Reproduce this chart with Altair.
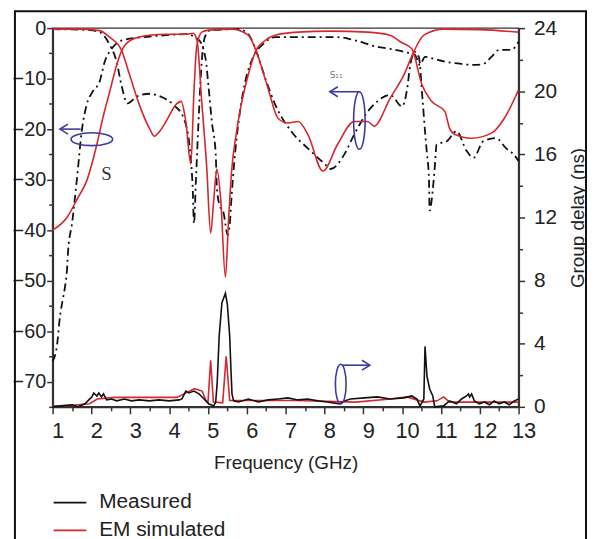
import altair as alt
import pandas as pd

# ---------------- data ----------------
# EM simulated |S21| (dB)
s21_sim_f = [1.0, 1.37, 1.65, 1.88, 2.01, 2.14, 2.29, 2.47, 2.65, 2.80, 3.06, 3.49, 3.92, 4.43,
             4.62, 4.72, 4.84, 4.97, 5.07, 5.15, 5.23, 5.33, 5.45, 5.53, 5.61, 5.74, 5.86, 6.04,
             6.22, 6.48, 6.73, 7.32, 8.16, 9.11, 9.69, 9.95, 10.25, 10.51, 10.76, 11.10, 11.22,
             11.35, 11.79, 12.30, 12.63, 13.0]
s21_sim_db = [-40, -37.5, -33.6, -30.2, -26.9, -23.0, -17.9, -12.6, -7.3, -4.1, -2.2, -1.4, -1.2, -1.2,
              -1.0, -2.5, -14.5, -27.7, -40.6, -34.0, -27.9, -34.0, -49.3, -38.1, -28.3, -20.4, -15.1, -9.2,
              -4.7, -2.4, -1.4, -0.8, -0.6, -0.8, -1.4, -2.7, -4.1, -11.2, -14.5, -16.5, -19.8,
              -21.0, -21.8, -20.8, -17.9, -12.2]
# EM simulated |S11| (dB)
s11_sim_f = [1.0, 1.8, 2.21, 2.47, 2.77, 2.98, 3.23, 3.49, 3.62, 3.75, 3.92, 4.18, 4.31, 4.43, 4.56,
             4.64, 4.71, 4.84, 5.02, 5.61, 6.04, 6.25, 6.55, 6.81, 7.06, 7.32, 7.57, 7.96, 8.34, 8.77,
             9.11, 9.28, 9.69, 10.05, 10.30, 10.56, 11.07, 12.0, 13.0]
s11_sim_db = [-0.2, -0.2, -0.5, -1.8, -4.3, -9.2, -15.1, -19.8, -21.4, -20.5, -18.5, -15.1, -14.5, -18.5, -26.9,
              -12.6, -3.7, -0.8, -0.4, -0.2, -1.4, -4.7, -12.0, -17.9, -18.8, -18.5, -21.0, -28.3, -23.0, -18.5,
              -18.5, -19.4, -13.9, -9.2, -4.7, -1.4, -0.2, -0.3, -0.8]
# Measured |S21| (dB)
s21_meas_f = [1.0, 1.11, 1.19, 1.27, 1.32, 1.37, 1.40, 1.50, 1.63, 1.75, 1.88, 2.03, 2.21, 2.34, 2.52,
              2.80, 3.31, 3.92, 4.43, 4.77, 4.94, 5.02, 5.10, 5.20, 5.23, 5.30, 5.40, 5.51, 5.56, 5.61,
              5.68, 5.79, 5.96, 6.17, 6.43, 6.73, 7.57, 8.34, 8.77, 9.36, 9.69, 10.05, 10.33, 10.46,
              10.59, 10.82, 11.15, 11.53, 11.84, 12.09, 12.30, 12.50, 12.81, 13.0]
s21_meas_db = [-66, -63.0, -57.1, -53.4, -51.2, -47.9, -44.0, -38.7, -29.6, -20.4, -15.1, -12.6, -10.6, -6.7, -4.1,
               -2.4, -1.8, -1.4, -1.2, -2.4, -6.1, -12.0, -18.5, -24.9, -31.6, -35.1, -36.5, -41.0, -39.0, -33.2,
               -26.3, -18.5, -10.6, -5.7, -3.1, -1.8, -1.8, -1.8, -2.4, -3.7, -4.1, -4.7, -5.3, -7.3,
               -5.7, -6.1, -6.7, -7.1, -7.3, -7.1, -5.7, -4.3, -4.3, -2.7]
# Measured |S11| (dB)
s11_meas_f = [1.0, 1.96, 2.21, 2.47, 2.65, 2.77, 2.93, 3.18, 3.49, 3.82, 4.13, 4.38, 4.54, 4.61, 4.64,
              4.69, 4.77, 4.84, 4.92, 5.07, 5.79, 6.04, 6.22, 6.48, 6.73, 7.14, 7.57, 8.01, 8.16, 8.52,
              8.77, 9.18, 9.36, 9.69, 10.0, 10.13, 10.21, 10.33, 10.43, 10.53, 10.59, 10.64, 10.69, 10.71,
              10.79, 10.84, 10.89, 11.15, 11.40, 11.66, 11.84, 12.09, 12.42, 12.68, 12.86, 13.0]
s11_meas_db = [-0.2, -0.4, -0.8, -3.3, -6.7, -11.2, -14.9, -13.5, -13.0, -13.7, -15.3, -17.9, -24.3, -32.2, -38.7,
               -30.2, -16.5, -6.7, -1.8, -0.4, -0.2, -1.2, -4.1, -10.0, -15.1, -20.4, -23.8, -26.9, -27.9, -24.9,
               -21.0, -15.9, -14.5, -13.2, -15.5, -12.0, -7.3, -4.7, -5.7, -14.5, -20.4, -24.9, -29.6, -36.1,
               -32.0, -27.7, -23.0, -22.4, -20.4, -24.3, -25.7, -22.4, -21.8, -23.8, -24.9, -26.3]
# EM simulated group delay (ns)
gd_sim_f = [1.0, 1.5, 1.95, 2.15, 2.6, 3.5, 4.2, 4.45, 4.65, 4.85, 4.95, 5.0, 5.07, 5.14, 5.38, 5.47,
            5.56, 6.0, 7.3, 8.8, 9.7, 10.13, 10.56, 10.9, 11.07, 11.22, 12.2, 13.0]
gd_sim_ns = [0.05, 0.1, 0.2, 0.5, 0.6, 0.6, 0.6, 0.9, 1.15, 1.0, 0.4, 0.25, 2.95, 0.3, 0.25, 3.2,
             0.4, 0.4, 0.4, 0.3, 0.5, 0.63, 0.3, 0.38, 0.63, 0.3, 0.3, 0.3]
# Measured group delay (ns)
gd_meas_f = [1.0, 1.24, 1.50, 1.65, 1.83, 2.01, 2.06, 2.14, 2.19, 2.26, 2.31, 2.39, 2.52, 2.65, 2.85,
             3.03, 3.23, 3.49, 3.74, 4.00, 4.26, 4.33, 4.43, 4.51, 4.64, 4.77, 4.90, 5.02, 5.15, 5.20,
             5.24, 5.29, 5.36, 5.45, 5.50, 5.56, 5.59, 5.62, 5.66, 5.79, 6.04, 6.30, 6.55, 6.81, 7.06,
             7.32, 7.57, 7.83, 8.08, 8.39, 8.52, 8.67, 9.03, 9.36, 9.69, 10.05, 10.25, 10.38, 10.46,
             10.56, 10.59, 10.64, 10.71, 10.79, 10.84, 11.07, 11.22, 11.40, 11.53, 11.66, 11.71, 11.74,
             11.79, 11.86, 11.99, 12.12, 12.25, 12.37, 12.50, 12.63, 12.76, 12.89, 13.0]
gd_meas_ns = [0.0, 0.06, 0.13, 0.0, 0.19, 0.63, 0.88, 0.69, 0.88, 0.63, 0.82, 0.44, 0.50, 0.38, 0.50,
              0.38, 0.44, 0.38, 0.44, 0.38, 0.44, 0.50, 1.00, 0.88, 1.00, 0.82, 0.50, 0.19, 0.06, 0.3,
              1.6, 4.5, 6.6, 7.2, 6.5, 4.5, 2.5, 0.8, 0.38, 0.31, 0.50, 0.31, 0.44, 0.50, 0.57,
              0.44, 0.50, 0.38, 0.31, 0.19, 0.38, 0.50, 0.57, 0.63, 0.50, 0.57, 0.69, 0.50, 0.06,
              0.50, 3.83, 1.95, 1.13, 0.69, 0.0, 0.06, 0.38, 0.19, 0.50, 0.69, 0.82, 0.63,
              0.82, 0.38, 0.19, 0.31, 0.13, 0.38, 0.19, 0.31, 0.13, 0.38, 0.50]

# axis ticks / labels
x_ticks = [1, 1.5, 2, 2.5, 3, 3.5, 4, 4.5, 5, 5.5, 6, 6.5, 7, 7.5, 8, 8.5, 9, 9.5, 10, 10.5, 11, 11.5, 12, 12.5, 13]
db_ticks = [0, -5, -10, -15, -20, -25, -30, -35, -40, -45, -50, -55, -60, -65, -70, -75]
ns_ticks = [0, 2, 4, 6, 8, 10, 12, 14, 16, 18, 20, 22, 24]

# annotations (data coordinates)
ell_s21_f, ell_s21_db = [2.01], [-22.0]
arr_s21_f1, arr_s21_f2, arr_s21_db = [1.72], [1.19], [-20.0]
ell_s11_f, ell_s11_db = [8.90], [-18.3]
arr_s11_f1, arr_s11_f2, arr_s11_db = [8.90], [8.14], [-12.6]
ell_gd_f, ell_gd_ns = [8.42], [1.44]
arr_gd_f1, arr_gd_f2, arr_gd_ns = [8.45], [9.17], [2.64]
txt_s_f, txt_s_db, txt_s = [2.39], [-28.9], ["S"]
txt_s11_f, txt_s11_db, txt_s11 = [8.30], [-9.3], ["S\u2081\u2081"]

# ---------------- build ----------------
RED = "#d7262e"
BLUE = "#3c3c9c"
FONT = "Liberation Sans"
W, H = 470, 382


def tab(f, v, col, src, param):
    return pd.DataFrame({"f": f, col: v, "src": src, "param": param})


s_meas = pd.concat([tab(s21_meas_f, s21_meas_db, "db", "Measured", "S21"),
                    tab(s11_meas_f, s11_meas_db, "db", "Measured", "S11")])
s_sim = pd.concat([tab(s21_sim_f, s21_sim_db, "db", "EM simulated", "S21"),
                   tab(s11_sim_f, s11_sim_db, "db", "EM simulated", "S11")])
g_meas = tab(gd_meas_f, gd_meas_ns, "ns", "Measured", "GD")
g_sim = tab(gd_sim_f, gd_sim_ns, "ns", "EM simulated", "GD")

x_axis = alt.Axis(values=x_ticks, format=".0f",
                  labelExpr="datum.value % 1 === 0 ? datum.label : ''",
                  tickSize={"condition": {"test": "datum.value % 1 === 0", "value": 7}, "value": 4},
                  title="Frequency (GHz)", labelFontSize=22, titleFontSize=19,
                  labelPadding=7, titlePadding=12, labelFlush=False, labelOverlap=False,
                  labelOffset=5)
db_axis = alt.Axis(values=db_ticks, format=".0f",
                   labelExpr="datum.value % 10 === 0 ? datum.label : ''",
                   tickSize={"condition": {"test": "datum.value % 10 === 0", "value": 6}, "value": 4},
                   title="", labelFontSize=20, labelPadding=1, labelOverlap=False, labelFlush=False)
ns_axis = alt.Axis(values=ns_ticks, orient="right", format=".0f",
                   labelExpr="datum.value % 4 === 0 ? datum.label : ''",
                   tickSize={"condition": {"test": "datum.value % 4 === 0", "value": 6}, "value": 4},
                   title="Group delay  (ns)", titleAngle=270, titleBaseline="top", titleFontSize=19,
                   labelFontSize=21, labelPadding=9, titlePadding=12,
                   labelOverlap=False, labelFlush=False)

x_scale = alt.Scale(domain=[1, 13], nice=False, zero=False)
db_scale = alt.Scale(domain=[-75, 0], nice=False, zero=False)
ns_scale = alt.Scale(domain=[0, 24], nice=False, zero=False)


def X():
    return alt.X("f:Q", scale=x_scale, axis=x_axis)


def YDB():
    return alt.Y("db:Q", scale=db_scale, axis=db_axis)


def YNS():
    return alt.Y("ns:Q", scale=ns_scale, axis=ns_axis)


legend = alt.Legend(title=None, orient="none", legendX=0, legendY=461, direction="vertical",
                    symbolType="stroke", symbolSize=1089, symbolStrokeWidth=1.8, symbolDash=[1, 0],
                    labelFontSize=21, labelFont=FONT, labelColor="#222", labelOffset=12, rowPadding=-13)
color = alt.Color("src:N", scale=alt.Scale(domain=["Measured", "EM simulated"], range=["#111111", RED]),
                  legend=legend)

sim_layer = alt.Chart(s_sim).mark_line(strokeWidth=1.6, interpolate="monotone").encode(
    x=X(), y=YDB(), color=color, detail="param:N")
meas_layer = alt.Chart(s_meas).mark_line(strokeWidth=1.8, strokeDash=[8, 4, 2, 4], interpolate="monotone").encode(
    x=X(), y=YDB(), color=color, detail="param:N")

ell_path_h = "M -1 0 A 1 0.31 0 1 0 1 0 A 1 0.31 0 1 0 -1 0 Z"
ell_path_v1 = "M 0 -1 A 0.2 1 0 1 0 0 1 A 0.2 1 0 1 0 0 -1 Z"
ell_path_v2 = "M 0 -1 A 0.27 1 0 1 0 0 1 A 0.27 1 0 1 0 0 -1 Z"
head_left = "M 1.6 -1 L 0 0 L 1.6 1"
head_right = "M -1.6 -1 L 0 0 L -1.6 1"

ell1 = alt.Chart(pd.DataFrame({"f": ell_s21_f, "db": ell_s21_db})).mark_point(
    shape=ell_path_h, size=1764, filled=False, stroke=BLUE, strokeWidth=1.6, opacity=1).encode(x=X(), y=YDB())
ell2 = alt.Chart(pd.DataFrame({"f": ell_s11_f, "db": ell_s11_db})).mark_point(
    shape=ell_path_v1, size=3364, filled=False, stroke=BLUE, strokeWidth=1.6, opacity=1).encode(x=X(), y=YDB())
arr1 = alt.Chart(pd.DataFrame({"f": arr_s21_f1, "f2": arr_s21_f2, "db": arr_s21_db})).mark_rule(
    color=BLUE, strokeWidth=1.6).encode(x=X(), x2="f2", y=YDB())
arr1h = alt.Chart(pd.DataFrame({"f": arr_s21_f2, "db": arr_s21_db})).mark_point(
    shape=head_left, size=100, filled=False, stroke=BLUE, strokeWidth=1.6, opacity=1).encode(x=X(), y=YDB())
arr2 = alt.Chart(pd.DataFrame({"f": arr_s11_f1, "f2": arr_s11_f2, "db": arr_s11_db})).mark_rule(
    color=BLUE, strokeWidth=1.6).encode(x=X(), x2="f2", y=YDB())
arr2h = alt.Chart(pd.DataFrame({"f": arr_s11_f2, "db": arr_s11_db})).mark_point(
    shape=head_left, size=100, filled=False, stroke=BLUE, strokeWidth=1.6, opacity=1).encode(x=X(), y=YDB())
txt1 = alt.Chart(pd.DataFrame({"f": txt_s_f, "db": txt_s_db, "t": txt_s})).mark_text(
    font="Liberation Serif", fontSize=19, color="#333").encode(x=X(), y=YDB(), text="t:N")
txt2 = alt.Chart(pd.DataFrame({"f": txt_s11_f, "db": txt_s11_db, "t": txt_s11})).mark_text(
    font="DejaVu Sans", fontSize=9, color="#777").encode(x=X(), y=YDB(), text="t:N")

left = alt.layer(meas_layer, sim_layer, ell1, ell2, arr1, arr1h, arr2, arr2h, txt1, txt2)

gd_sim_layer = alt.Chart(g_sim).mark_line(strokeWidth=1.6).encode(x=X(), y=YNS(), color=color)
gd_meas_layer = alt.Chart(g_meas).mark_line(strokeWidth=1.6).encode(x=X(), y=YNS(), color=color)
ell3 = alt.Chart(pd.DataFrame({"f": ell_gd_f, "ns": ell_gd_ns})).mark_point(
    shape=ell_path_v2, size=1600, filled=False, stroke=BLUE, strokeWidth=1.6, opacity=1).encode(x=X(), y=YNS())
arr3 = alt.Chart(pd.DataFrame({"f": arr_gd_f1, "f2": arr_gd_f2, "ns": arr_gd_ns})).mark_rule(
    color=BLUE, strokeWidth=1.6).encode(x=X(), x2="f2", y=YNS())
arr3h = alt.Chart(pd.DataFrame({"f": arr_gd_f2, "ns": arr_gd_ns})).mark_point(
    shape=head_right, size=100, filled=False, stroke=BLUE, strokeWidth=1.6, opacity=1).encode(x=X(), y=YNS())

right = alt.layer(gd_sim_layer, gd_meas_layer, ell3, arr3, arr3h)

border = alt.Chart(pd.DataFrame({"k": [0]})).mark_rect(
    fill="transparent", stroke="#111", strokeWidth=2).encode(
    x=alt.value(-38), x2=alt.value(538), y=alt.value(-17), y2=alt.value(600))

chart = alt.layer(left, right, border).resolve_scale(y="independent").properties(
    width=W, height=H,
    autosize=alt.AutoSizeParams(type="none"),
    padding={"left": 45, "top": 18, "right": 69, "bottom": 131},
    background="white",
).configure_view(stroke="#333", strokeWidth=1.5).configure_axis(
    domainColor="#333", domainWidth=2, tickColor="#333", tickWidth=1.5,
    labelColor="#222", titleColor="#222", labelFont=FONT, titleFont=FONT,
    titleFontWeight="normal", grid=False)

chart.save("out.html", embed_options={"renderer": "svg", "actions": False})
